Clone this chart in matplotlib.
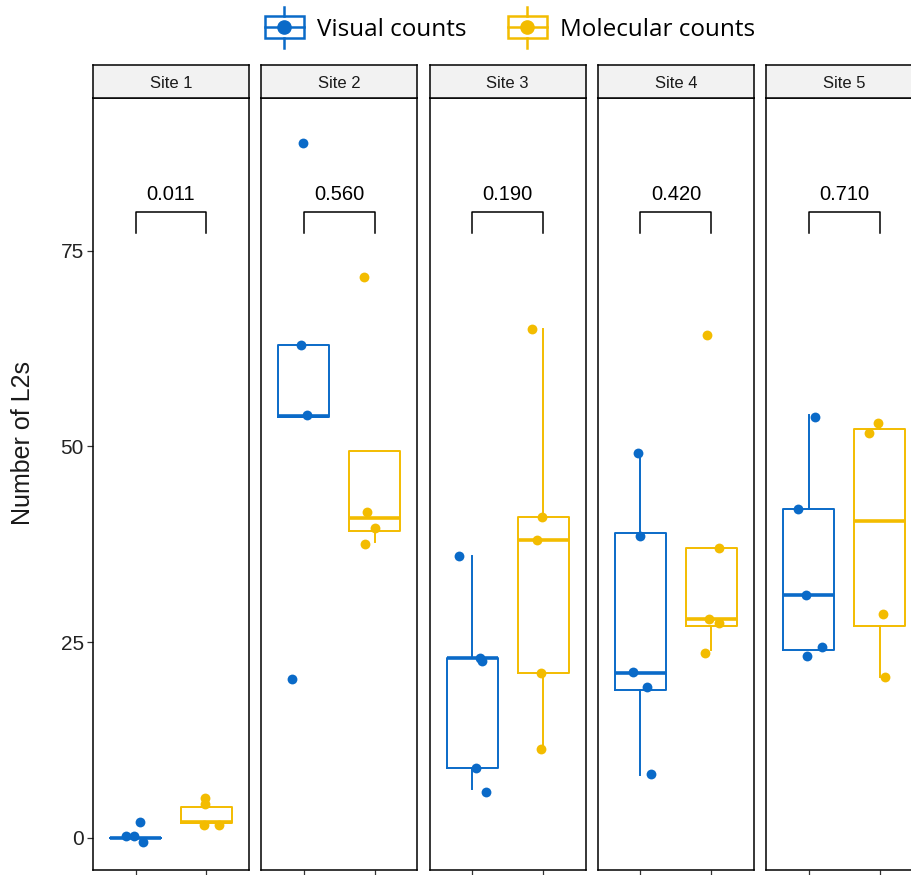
import matplotlib.pyplot as plt
from matplotlib.lines import Line2D
from matplotlib.patches import Rectangle
from matplotlib.legend_handler import HandlerBase

# dados (5 sitios, contagem visual vs molecular)
sites = ["Site 1", "Site 2", "Site 3", "Site 4", "Site 5"]
pvals = ["0.011", "0.560", "0.190", "0.420", "0.710"]

# pontos (valor) e deslocamento horizontal do jitter
visual_pts = [[2.0, 0.3, 0.3, -0.5],
              [88.8, 63.0, 54.0, 20.3],
              [36.0, 23.0, 22.6, 8.9, 5.8],
              [49.2, 38.6, 21.2, 19.3, 8.2],
              [53.7, 42.0, 31.0, 24.4, 23.2]]
visual_jit = [[0.06, -0.13, -0.02, 0.11],
              [-0.01, -0.04, 0.05, -0.17],
              [-0.18, 0.11, 0.14, 0.06, 0.20],
              [-0.03, -0.01, -0.10, 0.09, 0.15],
              [0.09, -0.15, -0.04, 0.19, -0.02]]
molec_pts = [[5.1, 4.3, 1.7, 1.7],
             [71.7, 41.6, 39.6, 37.6],
             [65.0, 41.0, 38.0, 21.0, 11.3],
             [64.2, 37.0, 28.0, 27.4, 23.6],
             [53.0, 51.7, 28.6, 20.6]]
molec_jit = [[-0.02, -0.02, -0.04, 0.18],
             [-0.15, -0.11, 0.01, -0.14],
             [-0.16, -0.01, -0.08, -0.03, -0.03],
             [-0.06, 0.11, -0.03, 0.11, -0.09],
             [-0.02, -0.15, 0.05, 0.07]]

# estatisticas das caixas: q1, mediana, q3, bigode inferior, bigode superior
visual_box = [(0.0, 0.0, 0.0, 0.0, 0.0),
              (53.8, 53.9, 63.0, 53.8, 63.0),
              (8.9, 23.0, 23.0, 6.2, 36.0),
              (18.9, 21.0, 39.0, 8.0, 49.2),
              (24.0, 31.0, 42.0, 24.0, 54.0)]
molec_box = [(1.85, 2.0, 3.9, 1.8, 5.2),
             (39.2, 40.8, 49.4, 37.8, 49.4),
             (21.0, 38.0, 41.0, 11.3, 65.0),
             (27.0, 28.0, 37.0, 24.0, 37.0),
             (27.0, 40.5, 52.2, 20.6, 53.0)]

azul = "#0A6AC8"
amarelo = "#F3BC00"

plt.rcParams["font.family"] = ["Liberation Sans", "DejaVu Sans"]

W, H = 911, 875
fig = plt.figure(figsize=(W / 100, H / 100), dpi=100)


def stats(t):
    q1, med, q3, lo, hi = t
    return dict(q1=q1, med=med, q3=q3, whislo=lo, whishi=hi, fliers=[])


for i in range(5):
    left = (93 + 168.3 * i) / W
    ax = fig.add_axes([left, 5 / H, 156 / W, 772 / H])
    strip = fig.add_axes([left, (H - 98) / H, 156 / W, 33 / H])

    for pos, box, pts, jit, cor in [(1, visual_box[i], visual_pts[i], visual_jit[i], azul),
                                    (2, molec_box[i], molec_pts[i], molec_jit[i], amarelo)]:
        ax.bxp([stats(box)], positions=[pos], widths=0.72, showfliers=False, showcaps=False,
               boxprops=dict(color=cor, lw=1.4), whiskerprops=dict(color=cor, lw=1.4),
               medianprops=dict(color=cor, lw=2.6), zorder=2)
        ax.scatter([pos + j for j in jit], pts, s=50, color=cor, lw=0, zorder=3)

    # colchete do p-valor
    ax.plot([1, 1, 2, 2], [77.3, 80, 80, 77.3], color="black", lw=1.1)
    ax.text(1.5, 81.0, pvals[i], ha="center", va="bottom", fontsize=14.5)

    ax.set_xlim(0.4, 2.6)
    ax.set_ylim(-4.1, 94.5)
    ax.set_xticks([1, 2])
    ax.set_xticklabels([])
    ax.tick_params(axis="x", length=4, width=0.9, color="#333333")
    if i == 0:
        ax.set_yticks([0, 25, 50, 75])
        ax.tick_params(axis="y", length=4.5, width=0.9, color="#333333", labelsize=15,
                       labelcolor="#222222", pad=2)
    else:
        ax.set_yticks([])
    for s in ax.spines.values():
        s.set_linewidth(1.1)
        s.set_color("black")

    strip.set_facecolor("#F2F2F2")
    strip.set_xticks([])
    strip.set_yticks([])
    for s in strip.spines.values():
        s.set_linewidth(1.1)
    strip.text(0.5, 0.45, sites[i], ha="center", va="center", fontsize=12, color="#1a1a1a",
               transform=strip.transAxes)

fig.text(23 / W, 1 - 443 / H, "Number of L2s", rotation=90, ha="center", va="center",
         fontsize=18, color="#1a1a1a")


# chave da legenda: caixa com mediana, bigodes e ponto
class BoxKey(HandlerBase):
    def create_artists(self, legend, orig_handle, xdescent, ydescent, width, height, fontsize, trans):
        c = orig_handle.get_color()
        x0, y0 = -xdescent, -ydescent
        xm, ym = x0 + width / 2, y0 + height / 2
        box = Rectangle((x0, y0), width, height, fill=False, ec=c, lw=1.8, transform=trans)
        med = Line2D([x0, x0 + width], [ym, ym], color=c, lw=1.8, transform=trans)
        wt = Line2D([xm, xm], [y0 + height, y0 + height * 1.45], color=c, lw=1.8, transform=trans)
        wb = Line2D([xm, xm], [y0 - height * 0.45, y0], color=c, lw=1.8, transform=trans)
        dot = Line2D([xm], [ym], marker="o", ms=9.5, color=c, lw=0, transform=trans)
        return [box, med, wt, wb, dot]


handles = [Line2D([], [], color=azul), Line2D([], [], color=amarelo)]
fig.legend(handles, ["Visual counts", "Molecular counts"], loc="center",
           bbox_to_anchor=(0.56, 1 - 29 / H), ncol=2, frameon=False,
           handler_map={Line2D: BoxKey()}, handlelength=1.6, handleheight=1.0,
           handletextpad=0.55, columnspacing=1.7,
           prop={"family": ["Open Sans", "DejaVu Sans"], "size": 17.5})

fig.savefig("out.png", dpi=100)
